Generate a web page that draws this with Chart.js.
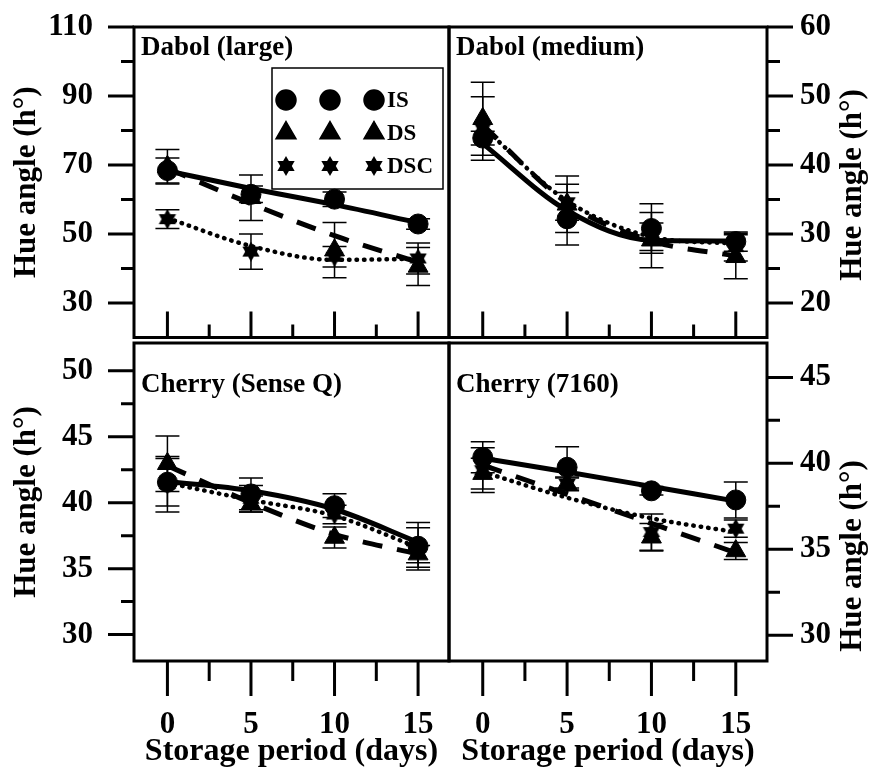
<!DOCTYPE html>
<html>
<head>
<meta charset="utf-8">
<script src="https://cdn.jsdelivr.net/npm/chart.js@4.4.1/dist/chart.umd.min.js"></script>
<style>
  html, body { margin: 0; padding: 0; background: #fff; }
  #wrap { position: relative; width: 875px; height: 768px; }
  #wrap canvas { position: absolute; left: 0; top: 0; }
</style>
</head>
<body>
<div id="wrap">
  <canvas id="tl" width="875" height="350"></canvas>
  <canvas id="tr" width="875" height="350"></canvas>
  <canvas id="bl" width="875" height="768"></canvas>
  <canvas id="br" width="875" height="768"></canvas>
</div>
<script>
// storage days and x axis ticks
const days = [0, 5, 10, 15];
const dayTicks = [0, 2.5, 5, 7.5, 10, 12.5, 15];
const dayLabels = [0, 5, 10, 15];
const seriesNames = ["IS", "DS", "DSC"];

// Dabol (large)
const largeIS = [68.4, 61.5, 60.1, 52.9];
const largeDS = [69.5, 60.5, 45.3, 40.6];
const largeDSC = [54.3, 44.9, 43.4, 42.9];
const largeISErr = [3.6, 2.4, 2.1, 1.5];
const largeDSErr = [5.0, 6.6, 8.0, 5.5];
const largeDSCErr = [2.7, 5.1, 3.0, 4.5];
const largeISFit = [68.3, 63.2, 58.5, 53.3];
const largeDSFit = [69.0, 58.8, 49.5, 41.8];
const largeDSCFit = [54.6, 46.5, 42.5, 42.8];
const largeTicks = [30, 40, 50, 60, 70, 80, 90, 100, 110];
const largeLabels = [30, 50, 70, 90, 110];

// Dabol (medium)
const mediumIS = [43.9, 32.2, 30.8, 28.9];
const mediumDS = [46.7, 34.3, 29.1, 26.7];
const mediumDSC = [45.3, 34.6, 29.6, 28.1];
const mediumISErr = [1.0, 3.8, 3.6, 1.4];
const mediumDSErr = [5.3, 4.1, 4.0, 3.2];
const mediumDSCErr = [4.6, 2.6, 2.0, 2.0];
const mediumISFit = [43.1, 33.4, 29.1, 29.0];
const mediumDSFit = [45.8, 34.5, 29.0, 26.8];
const mediumDSCFit = [45.5, 34.8, 29.6, 28.6];
const mediumTicks = [20, 25, 30, 35, 40, 45, 50, 55, 60];
const mediumLabels = [20, 30, 40, 50, 60];

// Cherry (Sense Q)
const senseIS = [41.55, 40.66, 39.77, 36.7];
const senseDS = [42.95, 39.9, 37.36, 36.1];
const senseDSC = [41.4, 40.3, 39.1, 36.6];
const senseISErr = [1.8, 1.2, 0.9, 1.8];
const senseDSErr = [2.1, 0.6, 0.8, 0.65];
const senseDSCErr = [2.1, 1.0, 0.7, 1.5];
const senseISFit = [41.6, 40.9, 39.5, 37.0];
const senseDSFit = [42.8, 40.0, 37.6, 36.1];
const senseDSCFit = [41.5, 40.2, 39.0, 36.6];
const senseTicks = [30, 32.5, 35, 37.5, 40, 42.5, 45, 47.5, 50];
const senseLabels = [30, 35, 40, 45, 50];

// Cherry (7160)
const c7160IS = [40.35, 39.77, 38.4, 37.87];
const c7160DS = [39.4, 38.8, 35.7, 34.9];
const c7160DSC = [39.6, 38.8, 36.0, 36.2];
const c7160ISErr = [0.9, 1.2, 0.25, 1.05];
const c7160DSErr = [0.9, 0.35, 0.8, 0.5];
const c7160DSCErr = [1.3, 0.4, 1.05, 0.5];
const c7160ISFit = [40.3, 39.5, 38.65, 37.8];
const c7160DSFit = [39.9, 38.2, 36.5, 34.8];
const c7160DSCFit = [39.5, 38.0, 36.8, 36.0];
const c7160Ticks = [30, 32.5, 35, 37.5, 40, 42.5, 45];
const c7160Labels = [30, 35, 40, 45];

const FONT = "'Liberation Serif', 'Times New Roman', serif";
const yTitle = "Hue angle (h°)";

// filled six-pointed star marker
function makeStar(size) {
  const c = document.createElement("canvas");
  c.width = c.height = size;
  const g = c.getContext("2d");
  const r = size / 2;
  g.fillStyle = "#000";
  [-Math.PI / 2, Math.PI / 2].forEach((rot) => {
    g.beginPath();
    for (let k = 0; k < 3; k++) {
      const a = rot + (k * 2 * Math.PI) / 3;
      const px = r + r * Math.cos(a);
      const py = r + r * Math.sin(a);
      if (k === 0) g.moveTo(px, py);
      else g.lineTo(px, py);
    }
    g.closePath();
    g.fill();
  });
  return c;
}
const star = makeStar(20);

const markers = [
  { pointStyle: "circle", radius: 10 },
  { pointStyle: "triangle", radius: 11.5 },
  { pointStyle: star, radius: 10 },
];
const fitLines = [
  { dash: [], width: 5, cap: "butt" },
  { dash: [20, 15], width: 5, cap: "butt" },
  { dash: [0.5, 7], width: 4.5, cap: "round" },
];

// top row canvases are 350 high, bottom row fill the page
const panels = [
  {
    id: "tl", row: 0, side: "left", title: "Dabol (large)", legend: true,
    min: 20, max: 110, ticks: largeTicks, labels: largeLabels,
    values: [largeIS, largeDS, largeDSC], errs: [largeISErr, largeDSErr, largeDSCErr],
    fits: [largeISFit, largeDSFit, largeDSCFit],
    padding: { left: 0, right: 426, top: 27, bottom: 0 },
  },
  {
    id: "tr", row: 0, side: "right", title: "Dabol (medium)", rightTitleY: 185,
    min: 15, max: 60, ticks: mediumTicks, labels: mediumLabels,
    values: [mediumIS, mediumDS, mediumDSC], errs: [mediumISErr, mediumDSErr, mediumDSCErr],
    fits: [mediumISFit, mediumDSFit, mediumDSCFit],
    padding: { left: 449, right: 0, top: 27, bottom: 0 },
  },
  {
    id: "bl", row: 1, side: "left", title: "Cherry (Sense Q)",
    min: 28, max: 52.1, ticks: senseTicks, labels: senseLabels,
    values: [senseIS, senseDS, senseDSC], errs: [senseISErr, senseDSErr, senseDSCErr],
    fits: [senseISFit, senseDSFit, senseDSCFit],
    padding: { left: 0, right: 426, top: 343, bottom: 0 },
  },
  {
    id: "br", row: 1, side: "right", title: "Cherry (7160)", rightTitleY: 556,
    min: 28.5, max: 47, ticks: c7160Ticks, labels: c7160Labels,
    values: [c7160IS, c7160DS, c7160DSC], errs: [c7160ISErr, c7160DSErr, c7160DSCErr],
    fits: [c7160ISFit, c7160DSFit, c7160DSCFit],
    padding: { left: 449, right: 0, top: 343, bottom: 0 },
  },
];

const toPoints = (vals) => days.map((d, j) => ({ x: d, y: vals[j] }));

// frame, tick marks, error bars, panel titles and legend
const decor = {
  id: "decor",
  beforeDatasetsDraw(chart) {
    const { ctx, scales: { x, y } } = chart;
    ctx.save();
    ctx.strokeStyle = "#000";
    ctx.lineWidth = 1.5;
    chart.data.datasets.forEach((ds) => {
      if (!ds.errors) return;
      ds.data.forEach((pt, j) => {
        const e = ds.errors[j];
        const px = x.getPixelForValue(pt.x);
        const top = y.getPixelForValue(pt.y + e);
        const bot = y.getPixelForValue(pt.y - e);
        ctx.beginPath();
        ctx.moveTo(px, top); ctx.lineTo(px, bot);
        ctx.moveTo(px - 12, top); ctx.lineTo(px + 12, top);
        ctx.moveTo(px - 12, bot); ctx.lineTo(px + 12, bot);
        ctx.stroke();
      });
    });
    ctx.restore();
  },
  afterDraw(chart, args, o) {
    const { ctx, chartArea: a, scales: { x, y } } = chart;
    ctx.save();
    ctx.strokeStyle = "#000";
    ctx.fillStyle = "#000";
    ctx.lineWidth = 3;
    ctx.strokeRect(a.left, a.top, a.right - a.left, a.bottom - a.top);

    ctx.beginPath();
    o.ticks.forEach((v) => {
      const py = y.getPixelForValue(v);
      const len = o.labels.includes(v) ? 26 : 13;
      if (o.side === "left") { ctx.moveTo(a.left - len, py); ctx.lineTo(a.left, py); }
      else { ctx.moveTo(a.right, py); ctx.lineTo(a.right + len, py); }
    });
    dayTicks.forEach((v) => {
      const px = x.getPixelForValue(v);
      const major = dayLabels.includes(v);
      if (o.row === 0) { ctx.moveTo(px, a.bottom); ctx.lineTo(px, a.bottom - (major ? 26 : 13)); }
      else { ctx.moveTo(px, a.bottom); ctx.lineTo(px, a.bottom + (major ? 35 : 20)); }
    });
    ctx.stroke();

    // panel title
    ctx.font = `bold 27px ${FONT}`;
    ctx.textAlign = "left";
    ctx.textBaseline = "alphabetic";
    ctx.fillText(o.title, a.left + 7, a.top + (o.row === 0 ? 28 : 49));

    // right hand axis title, reading upwards like the left one
    if (o.rightTitleY) {
      ctx.save();
      ctx.translate(853, o.rightTitleY);
      ctx.rotate(-Math.PI / 2);
      ctx.font = `bold 31px ${FONT}`;
      ctx.textAlign = "center";
      ctx.textBaseline = "middle";
      ctx.fillText(yTitle, 0, 0);
      ctx.restore();
    }

    if (o.legend) {
      ctx.lineWidth = 1.5;
      ctx.strokeRect(272, 68, 171, 121);
      const rows = [100, 133, 166];
      rows.forEach((ry, i) => {
        [286, 330, 374].forEach((rx) => {
          Chart.helpers.drawPoint(ctx, {
            pointStyle: markers[i].pointStyle, radius: markers[i].radius,
            rotation: 0, borderWidth: 1,
          }, rx, ry);
          ctx.fill();
        });
        ctx.font = `bold 23px ${FONT}`;
        ctx.textAlign = "left";
        ctx.textBaseline = "middle";
        ctx.fillText(seriesNames[i], 387, ry + 1);
      });
    }
    ctx.restore();
  },
};

panels.forEach((p) => {
  const datasets = [];
  p.fits.forEach((fit, i) => {
    datasets.push({
      data: toPoints(fit),
      showLine: true,
      pointRadius: 0,
      borderColor: "#000",
      borderWidth: fitLines[i].width,
      borderDash: fitLines[i].dash,
      borderCapStyle: fitLines[i].cap,
      cubicInterpolationMode: "monotone",
      fill: false,
    });
  });
  p.values.forEach((vals, i) => {
    datasets.push({
      data: toPoints(vals),
      showLine: false,
      errors: p.errs[i],
      pointStyle: markers[i].pointStyle,
      pointRadius: markers[i].radius,
      backgroundColor: "#000",
      borderColor: "#000",
      borderWidth: 1,
    });
  });

  const bottomRow = p.row === 1;
  new Chart(document.getElementById(p.id), {
    type: "scatter",
    data: { datasets },
    plugins: [decor],
    options: {
      responsive: false,
      animation: false,
      devicePixelRatio: 1,
      layout: { padding: p.padding },
      plugins: {
        legend: { display: false },
        tooltip: { enabled: false },
        decor: {
          row: p.row, side: p.side, title: p.title, legend: p.legend,
          ticks: p.ticks, labels: p.labels, rightTitleY: p.rightTitleY,
        },
      },
      scales: {
        x: {
          type: "linear",
          min: -2,
          max: 16.85,
          afterBuildTicks: (s) => { s.ticks = dayTicks.map((v) => ({ value: v })); },
          afterFit: (s) => {
            s.height = bottomRow ? 107 : 7;
            s.paddingLeft = 0;
            s.paddingRight = 0;
          },
          grid: { display: false, drawTicks: false },
          border: { display: false },
          ticks: {
            display: bottomRow,
            autoSkip: false,
            maxRotation: 0,
            padding: 45,
            color: "#000",
            font: { family: FONT, size: 31, weight: "bold", lineHeight: 1.2 },
            callback: (v) => (dayLabels.includes(v) ? String(v) : ""),
          },
          title: {
            display: bottomRow,
            text: "Storage period (days)",
            color: "#000",
            padding: 0,
            font: { family: FONT, size: 32, weight: "bold", lineHeight: 1 },
          },
        },
        y: {
          type: "linear",
          position: p.side,
          min: p.min,
          max: p.max,
          afterBuildTicks: (s) => { s.ticks = p.ticks.map((v) => ({ value: v })); },
          afterFit: (s) => {
            s.width = p.side === "left" ? 134 : 108;
            // label padding would otherwise push the plot area inwards
            s.paddingTop = 0;
            s.paddingBottom = 0;
          },
          grid: { display: false, drawTicks: false },
          border: { display: false },
          ticks: {
            autoSkip: false,
            padding: p.side === "left" ? 41 : 33,
            color: "#000",
            font: { family: FONT, size: 31, weight: "bold", lineHeight: 1.2 },
            callback: (v) => (p.labels.includes(v) ? String(v) : ""),
          },
          title: {
            display: p.side === "left",
            text: yTitle,
            color: "#000",
            padding: { top: 11, bottom: 0 },
            font: { family: FONT, size: 31, weight: "bold", lineHeight: 1 },
          },
        },
      },
    },
  });
});
</script>
</body>
</html>
